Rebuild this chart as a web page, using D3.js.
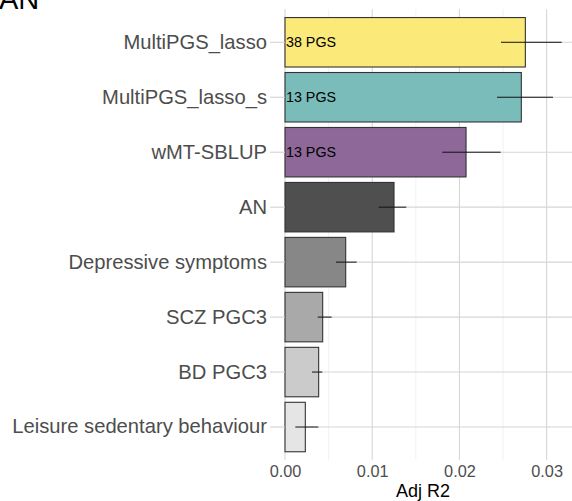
<!DOCTYPE html>
<html>
<head>
<meta charset="utf-8">
<script src="https://cdn.jsdelivr.net/npm/d3@7"></script>
<style>
  html, body { margin: 0; padding: 0; background: #fff; }
  svg { display: block; font-family: "Liberation Sans", Arial, sans-serif; }
</style>
</head>
<body>
<svg id="chart" width="572" height="501"></svg>
<script>
// Predictors of AN, ordered top to bottom
const categories = [
  "MultiPGS_lasso", "MultiPGS_lasso_s", "wMT-SBLUP", "AN",
  "Depressive symptoms", "SCZ PGC3", "BD PGC3", "Leisure sedentary behaviour"
];
const adjR2   = [0.02756, 0.0271, 0.02076, 0.0125, 0.00696, 0.00432, 0.00386, 0.00233];
const ciLower = [0.02477, 0.02431, 0.01804, 0.01074, 0.00585, 0.00375, 0.0031, 0.00118];
const ciUpper = [0.03173, 0.03073, 0.02473, 0.01391, 0.00822, 0.00535, 0.00428, 0.00382];
const barLabels = ["38 PGS", "13 PGS", "13 PGS", "", "", "", "", ""];
const fills = ["#fbe97a", "#7abcba", "#8e6898", "#4f4f4f", "#878787", "#a9a9a9", "#cbcbcb", "#e5e5e5"];
const xTicks = [0, 0.01, 0.02, 0.03];
const xMinor = [0.005, 0.015, 0.025];

const svg = d3.select("#chart");
const panel = { left: 285, right: 572, top: 9.3, bottom: 460 };

const x = d3.scaleLinear().domain([0, 0.03291]).range([panel.left, panel.right]);
const y = d3.scaleBand().domain(categories).range([panel.top, panel.bottom])
  .paddingInner(0.1).paddingOuter(0.15);

const rows = categories.map((c, i) => ({
  cat: c, v: adjR2[i], lo: ciLower[i], hi: ciUpper[i], label: barLabels[i], fill: fills[i]
}));

// grid
const grid = svg.append("g");
grid.selectAll(".minor").data(xMinor).join("line")
  .attr("x1", d => x(d)).attr("x2", d => x(d))
  .attr("y1", panel.top).attr("y2", panel.bottom)
  .attr("stroke", "#ececec").attr("stroke-width", 0.7);
grid.selectAll(".hgrid").data(categories).join("line")
  .attr("x1", panel.left).attr("x2", panel.right)
  .attr("y1", d => y(d) + y.bandwidth() / 2).attr("y2", d => y(d) + y.bandwidth() / 2)
  .attr("stroke", "#d6d6d6").attr("stroke-width", 1.1);
grid.selectAll(".major").data(xTicks).join("line")
  .attr("x1", d => x(d)).attr("x2", d => x(d))
  .attr("y1", panel.top).attr("y2", panel.bottom)
  .attr("stroke", "#d6d6d6").attr("stroke-width", 1.1);

// bars
svg.append("g").selectAll("rect").data(rows).join("rect")
  .attr("x", x(0)).attr("y", d => y(d.cat))
  .attr("width", d => x(d.v) - x(0)).attr("height", y.bandwidth())
  .attr("fill", d => d.fill).attr("stroke", "#333").attr("stroke-width", 1.1);

// bar labels
svg.append("g").selectAll("text").data(rows.filter(d => d.label)).join("text")
  .attr("x", x(0) + 1).attr("y", d => y(d.cat) + y.bandwidth() / 2)
  .attr("dy", "0.35em").attr("font-size", 14.3).attr("fill", "#000")
  .text(d => d.label);

// error bars
svg.append("g").selectAll("line").data(rows).join("line")
  .attr("x1", d => x(d.lo)).attr("x2", d => x(d.hi))
  .attr("y1", d => y(d.cat) + y.bandwidth() / 2).attr("y2", d => y(d.cat) + y.bandwidth() / 2)
  .attr("stroke", "#111").attr("stroke-width", 1);

// y axis
const yAxis = svg.append("g").attr("transform", `translate(${panel.left},0)`)
  .call(d3.axisLeft(y).tickSize(15).tickPadding(3));
yAxis.select(".domain").remove();
yAxis.selectAll(".tick line").attr("stroke", "#cfcfcf").attr("stroke-width", 1);
yAxis.selectAll(".tick text").attr("font-size", 20.2).attr("fill", "#4d4d4d")
  .attr("font-family", "Liberation Sans, Arial, sans-serif");

// x axis
const xAxis = svg.append("g").attr("transform", `translate(0,${panel.bottom})`)
  .call(d3.axisBottom(x).tickValues(xTicks).tickFormat(d3.format(".2f")).tickSize(0).tickPadding(5));
xAxis.select(".domain").remove();
xAxis.selectAll(".tick text").attr("font-size", 16.3).attr("fill", "#4d4d4d")
  .attr("font-family", "Liberation Sans, Arial, sans-serif");

svg.append("text").attr("x", 423).attr("y", 497).attr("text-anchor", "middle")
  .attr("font-size", 18).attr("fill", "#000").text("Adj R2");

// panel title, partly above the top edge
svg.append("text").attr("x", -1).attr("y", 9).attr("font-size", 29).attr("fill", "#000").text("AN");
</script>
</body>
</html>
